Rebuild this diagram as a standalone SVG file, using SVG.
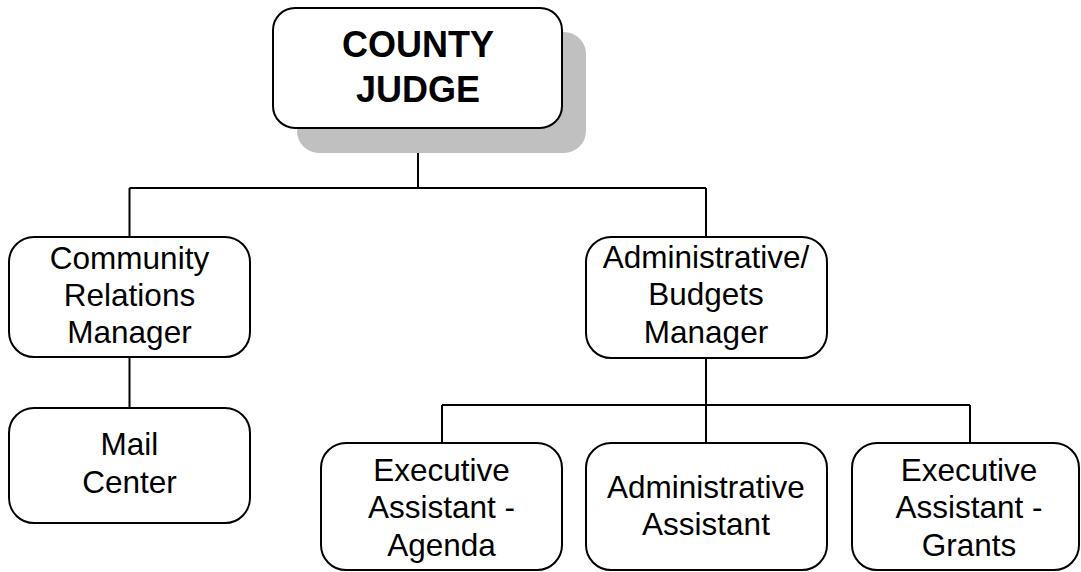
<svg xmlns="http://www.w3.org/2000/svg" width="1081" height="572" viewBox="0 0 1081 572">
<style>
.box{fill:#fff;stroke:#000;stroke-width:2}
.t{font-family:"Liberation Sans",Arial,sans-serif;font-size:31.5px;text-anchor:middle;fill:#000}
.tb{font-family:"Liberation Sans",Arial,sans-serif;font-size:36px;font-weight:bold;text-anchor:middle;fill:#000}
.c{fill:none;stroke:#000;stroke-width:2}
</style>
<rect width="1081" height="572" fill="#fff"/>
<g id="connectors">
<path class="c" d="M418 128V188M129.5 188H706M129.5 188V237M706 188V237"/>
<path class="c" d="M129.5 357V408"/>
<path class="c" d="M706 358V405M442 405H970M442 405V443M706 405V443M970 405V443"/>
</g>
<g id="county-judge">
<rect x="297" y="32" width="289" height="121" rx="22" fill="#c0c0c0"/>
<rect class="box" x="273" y="8" width="289" height="120" rx="22"/>
<text class="tb" x="418" y="57">COUNTY</text>
<text class="tb" x="418" y="102">JUDGE</text>
</g>
<g id="community-relations">
<rect class="box" x="9" y="237" width="241" height="120" rx="25"/>
<text class="t" x="129.5" y="269">Community</text>
<text class="t" x="129.5" y="306">Relations</text>
<text class="t" x="129.5" y="343">Manager</text>
</g>
<g id="mail-center">
<rect class="box" x="9" y="408" width="241" height="115" rx="25"/>
<text class="t" x="129.5" y="455">Mail</text>
<text class="t" x="129.5" y="493">Center</text>
</g>
<g id="admin-budgets">
<rect class="box" x="586" y="237" width="241" height="121" rx="25"/>
<text class="t" x="706" y="268">Administrative/</text>
<text class="t" x="706" y="305">Budgets</text>
<text class="t" x="706" y="343">Manager</text>
</g>
<g id="exec-agenda">
<rect class="box" x="321" y="443" width="241" height="127" rx="25"/>
<text class="t" x="441.5" y="481">Executive</text>
<text class="t" x="441.5" y="518">Assistant -</text>
<text class="t" x="441.5" y="556">Agenda</text>
</g>
<g id="admin-assistant">
<rect class="box" x="586" y="443" width="241" height="127" rx="25"/>
<text class="t" x="706" y="498">Administrative</text>
<text class="t" x="706" y="535">Assistant</text>
</g>
<g id="exec-grants">
<rect class="box" x="852" y="443" width="227" height="127" rx="25"/>
<text class="t" x="969" y="481">Executive</text>
<text class="t" x="969" y="518">Assistant -</text>
<text class="t" x="969" y="556">Grants</text>
</g>
</svg>
